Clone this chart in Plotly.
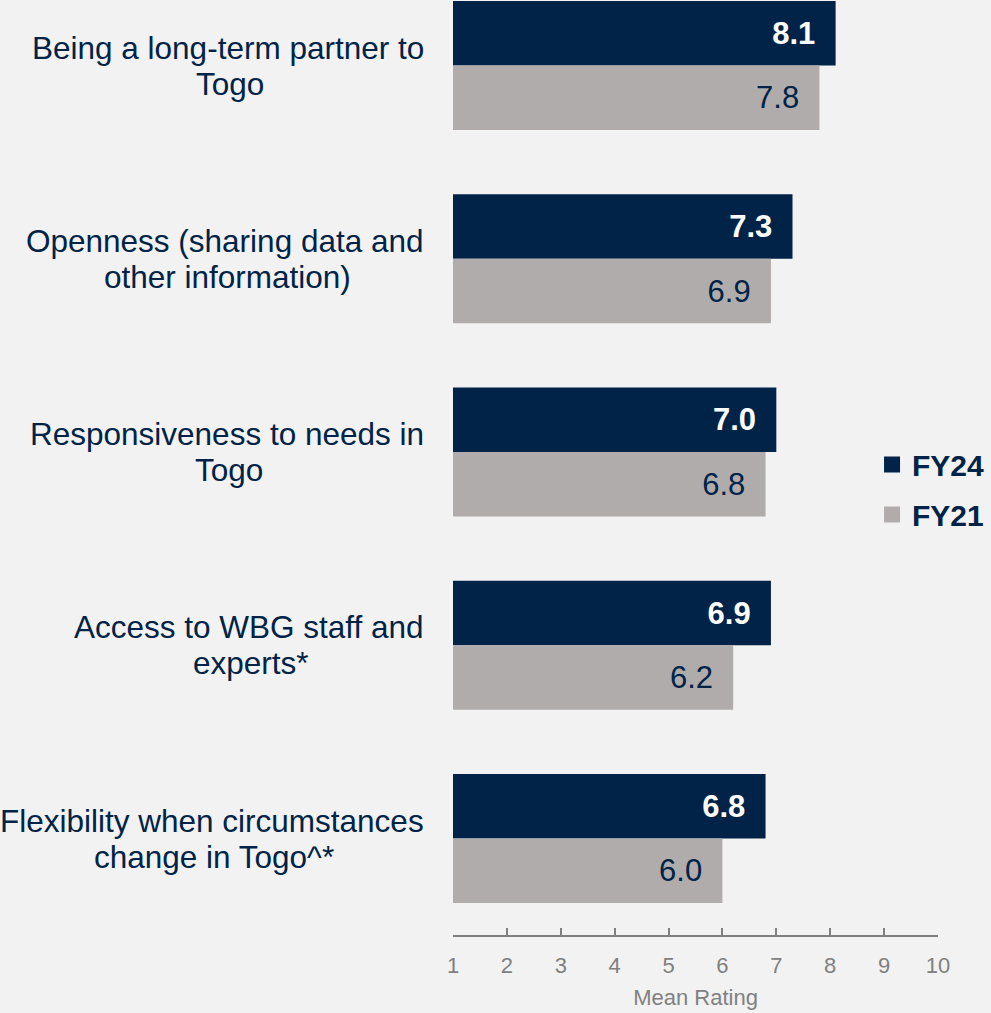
import plotly.graph_objects as go

categories = [
    "Being a long-term partner to<br>Togo",
    "Openness (sharing data and<br>other information)",
    "Responsiveness to needs in<br>Togo",
    "Access to WBG staff and<br>experts*",
    "Flexibility when circumstances<br>change in Togo^*",
]
fy24 = [8.1, 7.3, 7.0, 6.9, 6.8]
fy21 = [7.8, 6.9, 6.8, 6.2, 6.0]
series_names = ["FY24", "FY21"]
x_ticks = [1, 2, 3, 4, 5, 6, 7, 8, 9, 10]

NAVY = "#002347"
GREY = "#AFACAB"
BG = "#F2F2F2"
AXIS = "#808080"
FONT = "Liberation Sans, Arial, sans-serif"
PAD = "\u00a0\u00a0"

fig = go.Figure()
fig.add_trace(go.Bar(
    name=series_names[0], y=categories, x=fy24, orientation="h",
    marker=dict(color=NAVY, line=dict(width=0)),
    text=[f"<b>{v:.1f}</b>{PAD}" for v in fy24],
    textposition="inside", insidetextanchor="end",
    textfont=dict(color="white", size=31, family=FONT),
    constraintext="none", hoverinfo="skip", showlegend=False,
))
fig.add_trace(go.Bar(
    name=series_names[1], y=categories, x=fy21, orientation="h",
    marker=dict(color=GREY, line=dict(width=0)),
    text=[f"{v:.1f}{PAD}" for v in fy21],
    textposition="inside", insidetextanchor="end",
    textfont=dict(color=NAVY, size=31, family=FONT),
    constraintext="none", hoverinfo="skip", showlegend=False,
))
# legend entries with larger square swatches
for name, col in zip(series_names, [NAVY, GREY]):
    fig.add_trace(go.Scatter(
        name=name, legendgroup=name, x=[None], y=[None], mode="markers",
        marker=dict(symbol="square", size=16, color=col),
        hoverinfo="skip", showlegend=True,
    ))

# category labels: first line right-aligned at the plot edge, second line
# centered under it (centering finished in the browser once widths are known)
for c in categories:
    lines = c.split("<br>")
    n = len(lines)
    for i, line in enumerate(lines):
        fig.add_annotation(
            x=0, xref="paper", y=c, yref="y", text=line, showarrow=False,
            xanchor="right" if i == 0 else "center", yanchor="middle",
            xshift=-27 if i == 0 else 0, yshift=(n - 1) * 18 - i * 36,
            font=dict(size=31.5, color=NAVY, family=FONT),
        )

fig.update_layout(
    width=991, height=1013,
    margin=dict(l=453, r=53, t=0, b=78),
    paper_bgcolor=BG, plot_bgcolor=BG,
    barmode="group", bargap=0.333, bargroupgap=0,
    font=dict(family=FONT),
    showlegend=True,
    legend=dict(
        x=0.864, xanchor="left", y=0.4765, yanchor="middle",
        bgcolor="rgba(0,0,0,0)",
        font=dict(size=30, color=NAVY, family=FONT, weight="bold"),
        traceorder="grouped", tracegroupgap=8, itemsizing="trace",
    ),
    xaxis=dict(
        range=[1, 10], tickvals=x_ticks, ticktext=[str(t) for t in x_ticks],
        showgrid=False, zeroline=False,
        showline=True, linecolor=AXIS, linewidth=1.5,
        ticks="inside", ticklen=7, tickwidth=1.5, tickcolor=AXIS,
        tickfont=dict(size=22, color=AXIS, family=FONT),
        ticklabelstandoff=10,
        title=dict(text="Mean Rating", font=dict(size=22, color=AXIS, family=FONT), standoff=12),
        fixedrange=True,
    ),
    yaxis=dict(
        type="category",
        range=[4.499, -0.339], showticklabels=False, showgrid=False,
        zeroline=False, showline=False, ticks="", fixedrange=True,
    ),
)

post_js = (
    "document.body.style.margin='0';document.body.style.background='#F2F2F2';"
    "(function(){var gd=document.getElementsByClassName('plotly-graph-div')[0];"
    "var n=gd.layout.annotations.length;var upd={};"
    "var els=gd.querySelectorAll('.annotation');var widths=[];"
    "els.forEach(function(e){var t=e.querySelector('text');widths.push(t.getComputedTextLength());});"
    "for(var k=0;k+1<n;k+=2){upd['annotations['+(k+1)+'].xshift']=-27-widths[k]/2;}"
    "Plotly.relayout(gd,upd);})();"
)

fig.write_html("out.html", config={"displayModeBar": False}, post_script=post_js)
